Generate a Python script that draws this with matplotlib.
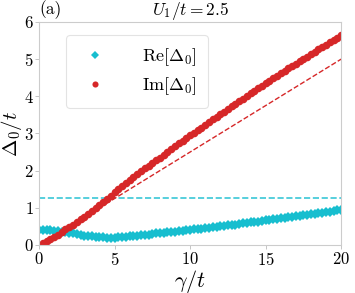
import numpy as np
import matplotlib
matplotlib.use("Agg")
import matplotlib.pyplot as plt

plt.rcParams['font.family'] = ['cmr10', 'DejaVu Serif']
plt.rcParams['mathtext.fontset'] = 'cm'
plt.rcParams['axes.formatter.use_mathtext'] = True

# gamma/t grid
gamma = np.linspace(0, 20, 81)

re_delta = [0.40, 0.40, 0.40, 0.39, 0.38, 0.37, 0.36, 0.34, 0.33, 0.31,
            0.29, 0.27, 0.25, 0.24, 0.23, 0.22, 0.21, 0.21, 0.20, 0.20,
            0.20, 0.21, 0.21, 0.22, 0.23, 0.24, 0.25, 0.26, 0.27, 0.28,
            0.30, 0.31, 0.32, 0.33, 0.34, 0.35, 0.36, 0.37, 0.38, 0.39,
            0.41, 0.42, 0.43, 0.44, 0.45, 0.46, 0.48, 0.49, 0.50, 0.51,
            0.53, 0.54, 0.55, 0.57, 0.58, 0.59, 0.61, 0.62, 0.63, 0.65,
            0.66, 0.67, 0.69, 0.70, 0.72, 0.73, 0.74, 0.76, 0.77, 0.79,
            0.80, 0.81, 0.83, 0.84, 0.86, 0.87, 0.89, 0.90, 0.92, 0.93,
            0.95]

im_delta = [0.00, 0.05, 0.10, 0.16, 0.22, 0.28, 0.35, 0.42, 0.48, 0.55,
            0.62, 0.69, 0.76, 0.84, 0.91, 0.99, 1.07, 1.15, 1.24, 1.33,
            1.42, 1.50, 1.59, 1.67, 1.75, 1.83, 1.91, 1.98, 2.06, 2.13,
            2.21, 2.28, 2.35, 2.43, 2.50, 2.58, 2.65, 2.73, 2.80, 2.88,
            2.95, 3.02, 3.09, 3.16, 3.23, 3.31, 3.38, 3.45, 3.52, 3.59,
            3.66, 3.73, 3.80, 3.87, 3.94, 4.01, 4.08, 4.15, 4.21, 4.28,
            4.35, 4.42, 4.48, 4.55, 4.62, 4.68, 4.75, 4.81, 4.88, 4.94,
            5.01, 5.07, 5.14, 5.20, 5.26, 5.33, 5.39, 5.45, 5.51, 5.58,
            5.64]

# reference lines
re_level = 1.25
asym_x = [4.0, 20.0]
asym_y = [1.0, 5.0]

c_re = '#17becf'
c_im = '#d62728'

fig = plt.figure(figsize=(3.55, 2.93), dpi=100)
ax = fig.add_axes([0.110, 0.164, 0.851, 0.761])

ax.axhline(re_level, color=c_re, ls='--', lw=1.2, alpha=0.85)
ax.plot(asym_x, asym_y, color=c_im, ls='--', lw=1.0)
ax.plot(gamma, re_delta, 'D', color=c_re, ms=5, mew=0, label=r'$\mathrm{Re}[\Delta_0]$')
ax.plot(gamma, im_delta, 'o', color=c_im, ms=5.5, mew=0, label=r'$\mathrm{Im}[\Delta_0]$')

ax.set_xlim(0, 20)
ax.set_ylim(0, 6)
ax.set_xticks([0, 5, 10, 15, 20])
ax.set_yticks([0, 1, 2, 3, 4, 5, 6])
ax.tick_params(labelsize=12, length=3, width=0.6, color='#bbbbbb', pad=1)
for s in ax.spines.values():
    s.set_color('#cccccc')
    s.set_linewidth(0.8)

ax.set_xlabel(r'$\gamma/t$', fontsize=16, labelpad=0)
ax.set_ylabel(r'$\Delta_0/t$', fontsize=15, labelpad=0)
ax.set_title(r'$U_1/t=2.5$', fontsize=12.5, pad=3)
ax.text(0.0, 1.012, '(a)', transform=ax.transAxes, fontsize=12.5, ha='left', va='bottom')

leg = ax.legend(loc='upper left', bbox_to_anchor=(0.09, 0.94), borderaxespad=0,
                fontsize=13, handletextpad=1.6, borderpad=0.6, labelspacing=0.4,
                frameon=True, fancybox=True, markerscale=0.8)
leg.get_frame().set_edgecolor('#dddddd')
leg.get_frame().set_linewidth(0.8)

fig.savefig('out.png', dpi=100)
